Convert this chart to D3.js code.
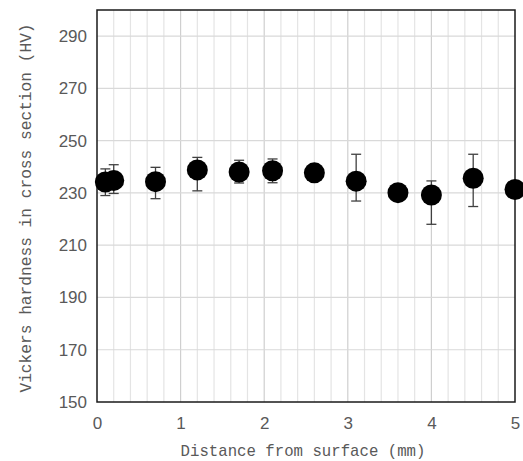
<!DOCTYPE html>
<html>
<head>
<meta charset="utf-8">
<script src="https://cdn.jsdelivr.net/npm/d3@7"></script>
<style>
  body { margin: 0; background: #fff; }
</style>
</head>
<body>
<script>
// data
var distance = [0.1, 0.2, 0.7, 1.2, 1.7, 2.1, 2.6, 3.1, 3.6, 4.0, 4.5, 5.0];
var hardness = [234.2, 234.8, 234.3, 238.8, 238.0, 238.5, 237.7, 234.5, 230.1, 229.2, 235.6, 231.3];
var errLow   = [5.2, 5.0, 6.5, 8.0, 4.2, 4.6, 0, 7.6, 0, 11.2, 10.8, 0];
var errHigh  = [5.0, 6.0, 5.5, 4.8, 4.5, 4.5, 0, 10.3, 0, 5.4, 9.2, 0];
var yTicks = [150, 170, 190, 210, 230, 250, 270, 290];
var xTicks = [0, 1, 2, 3, 4, 5];

var W = 523, H = 461;
var margin = {top: 10, right: 8, bottom: 59, left: 97},
    width = W - margin.left - margin.right,
    height = H - margin.top - margin.bottom;

var svg = d3.select("body")
  .append("svg")
    .attr("width", W)
    .attr("height", H)
  .append("g")
    .attr("transform", "translate(" + margin.left + "," + margin.top + ")");

var x = d3.scaleLinear().domain([0, 5]).range([0, width]);
var y = d3.scaleLinear().domain([150, 300]).range([height, 0]);

// minor vertical grid every 0.2
svg.append("g")
  .selectAll("line")
  .data(d3.range(1, 25).map(function(i) { return i / 5; }))
  .enter().append("line")
    .attr("x1", function(d) { return x(d); })
    .attr("x2", function(d) { return x(d); })
    .attr("y1", 0)
    .attr("y2", height)
    .attr("stroke", function(d) { return Math.abs(d - Math.round(d)) < 1e-6 ? "#cfcfcf" : "#e4e4e4"; })
    .attr("stroke-width", 1.2);

// horizontal grid
svg.append("g")
  .selectAll("line")
  .data(yTicks.slice(1))
  .enter().append("line")
    .attr("x1", 0)
    .attr("x2", width)
    .attr("y1", function(d) { return y(d); })
    .attr("y2", function(d) { return y(d); })
    .attr("stroke", "#d9d9d9")
    .attr("stroke-width", 1.2);

// frame
svg.append("rect")
  .attr("width", width)
  .attr("height", height)
  .attr("fill", "none")
  .attr("stroke", "#1a1a1a")
  .attr("stroke-width", 1.5);

// axes (labels only)
var yAxis = svg.append("g")
  .call(d3.axisLeft(y).tickValues(yTicks).tickSize(0).tickPadding(10));
var xAxis = svg.append("g")
  .attr("transform", "translate(0," + height + ")")
  .call(d3.axisBottom(x).tickValues(xTicks).tickFormat(d3.format("d")).tickSize(0).tickPadding(15));
[yAxis, xAxis].forEach(function(a) {
  a.select(".domain").remove();
  a.selectAll("text")
    .attr("fill", "#595959")
    .style("font-family", "'Liberation Sans', Arial, sans-serif")
    .style("font-size", "17px");
});

// error bars
var pts = distance.map(function(d, i) {
  return {x: d, y: hardness[i], lo: hardness[i] - errLow[i], hi: hardness[i] + errHigh[i]};
}).filter(function(p) { return p.hi > p.lo; });

var eb = svg.append("g").attr("stroke", "#404040").attr("stroke-width", 1.3);
eb.selectAll(".v").data(pts).enter().append("line")
  .attr("x1", function(d) { return x(d.x); })
  .attr("x2", function(d) { return x(d.x); })
  .attr("y1", function(d) { return y(d.lo); })
  .attr("y2", function(d) { return y(d.hi); });
eb.selectAll(".lo").data(pts).enter().append("line")
  .attr("x1", function(d) { return x(d.x) - 5; })
  .attr("x2", function(d) { return x(d.x) + 5; })
  .attr("y1", function(d) { return y(d.lo); })
  .attr("y2", function(d) { return y(d.lo); });
eb.selectAll(".hi").data(pts).enter().append("line")
  .attr("x1", function(d) { return x(d.x) - 5; })
  .attr("x2", function(d) { return x(d.x) + 5; })
  .attr("y1", function(d) { return y(d.hi); })
  .attr("y2", function(d) { return y(d.hi); });

// markers
svg.selectAll("circle")
  .data(distance)
  .enter().append("circle")
    .attr("cx", function(d) { return x(d); })
    .attr("cy", function(d, i) { return y(hardness[i]); })
    .attr("r", 10.5)
    .attr("fill", "#000");

// axis titles
svg.append("text")
  .attr("x", width / 2 - 3)
  .attr("y", height + 54)
  .attr("text-anchor", "middle")
  .attr("fill", "#595959")
  .style("font-family", "'Liberation Mono', 'DejaVu Sans Mono', monospace")
  .style("font-size", "15.7px")
  .text("Distance from surface (mm)");

svg.append("text")
  .attr("transform", "translate(" + (-66) + "," + (height / 2 + 2) + ") rotate(-90)")
  .attr("text-anchor", "middle")
  .attr("fill", "#595959")
  .style("font-family", "'Liberation Mono', 'DejaVu Sans Mono', monospace")
  .style("font-size", "16.2px")
  .text("Vickers hardness in cross section (HV)");
</script>
</body>
</html>
